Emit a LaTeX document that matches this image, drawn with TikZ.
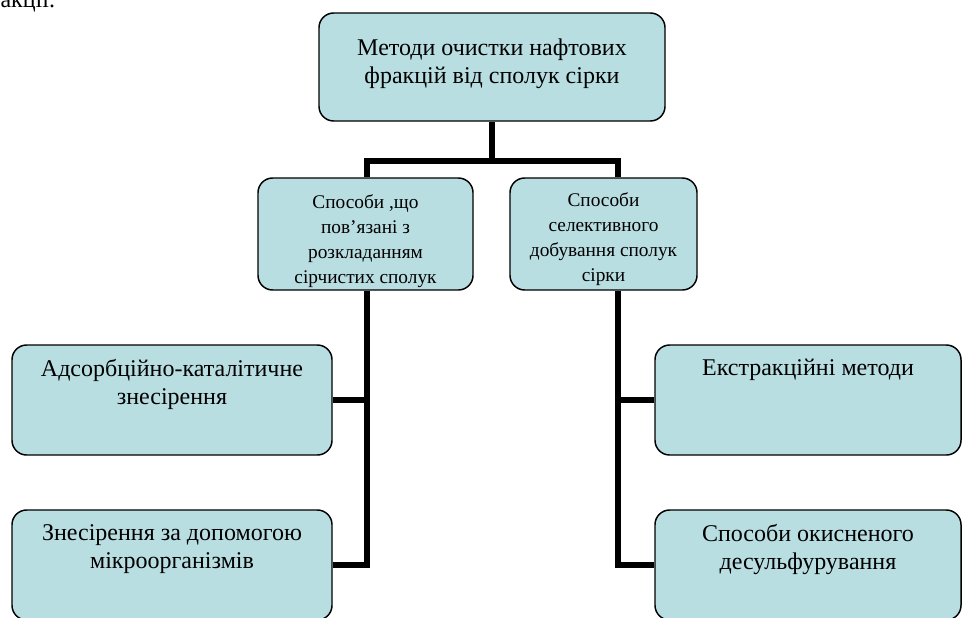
\documentclass[tikz,border=0pt]{standalone}
\usepackage{fontspec}
\setmainfont{Liberation Serif}
\usetikzlibrary{positioning}
\definecolor{boxfill}{RGB}{185,222,226}
\tikzset{every picture/.style={line width=0.75pt}}
\tikzset{
box/.style={draw, fill=boxfill, rounded corners=11pt, line width=1.1pt},
lbl/.style={inner sep=0pt, align=center, font=\fontsize{18}{21}\selectfont},
sublbl/.style={inner sep=0pt, align=center, font=\fontsize{14.5}{18.75}\selectfont},
link/.style={line width=4.5pt}}

\begin{document}
\begin{tikzpicture}[x=0.75pt,y=0.75pt,yscale=-1,xscale=1]
\useasboundingbox (0,0) rectangle (962,617);

% Text Node
\node[lbl, anchor=base west] (prev) at (0,8) {акції.};

%Shape: Rounded Rect [top]
\node[box, minimum width=259.5pt, minimum height=81pt] (top) at (492,67) {};
\node[lbl, below=19.5pt of top.north] (toplbl) {Методи очистки нафтових\\фракцій від сполук сірки};

%Shape: Rounded Rect [second row]
\node[box, minimum width=161.25pt, minimum height=84pt] (dec) at (365.5,234) {};
\node[sublbl] (declbl) at ([yshift=5pt]dec.center) {Способи ,що\\пов’язані з\\розкладанням\\сірчистих сполук};
\node[box, minimum width=140.25pt, minimum height=84pt] (sel) at (603.5,234) {};
\node[sublbl] (sellbl) at ([yshift=4pt]sel.center) {Способи\\селективного\\добування сполук\\сірки};

%Shape: Rounded Rect [left leaves]
\node[box, minimum width=240pt, minimum height=82.5pt] (adsorb) at (172,400) {};
\node[lbl, below=11pt of adsorb.north] (adsorblbl) {Адсорбційно-каталітичне\\знесірення};
\node[box, minimum width=240pt, minimum height=82.5pt] (micro) at (172,565) {};
\node[lbl, below=11pt of micro.north] (microlbl) {Знесірення за допомогою\\мікроорганізмів};

%Shape: Rounded Rect [right leaves]
\node[box, minimum width=229.5pt, minimum height=82.5pt] (extr) at (808,400) {};
\node[lbl, below=11pt of extr.north] (extrlbl) {Екстракційні методи};
\node[box, minimum width=229.5pt, minimum height=82.5pt] (oxid) at (808,565) {};
\node[lbl, below=11pt of oxid.north] (oxidlbl) {Способи окисненого\\десульфурування};

%Connectors
\coordinate (jl) at (367,161);
\coordinate (jr) at (618,161);
\draw[link] (top.south) -- (top.south |- jl);
\draw[link] (jl |- dec.north) -- (jl) -- (jr) -- (jr |- sel.north);

\draw[link] (dec.south -| jl) -- (jl |- micro.east) -- (micro.east);
\draw[link] (jl |- adsorb.east) -- (adsorb.east);

\draw[link] (sel.south -| jr) -- (jr |- oxid.west) -- (oxid.west);
\draw[link] (jr |- extr.west) -- (extr.west);

\end{tikzpicture}
\end{document}
